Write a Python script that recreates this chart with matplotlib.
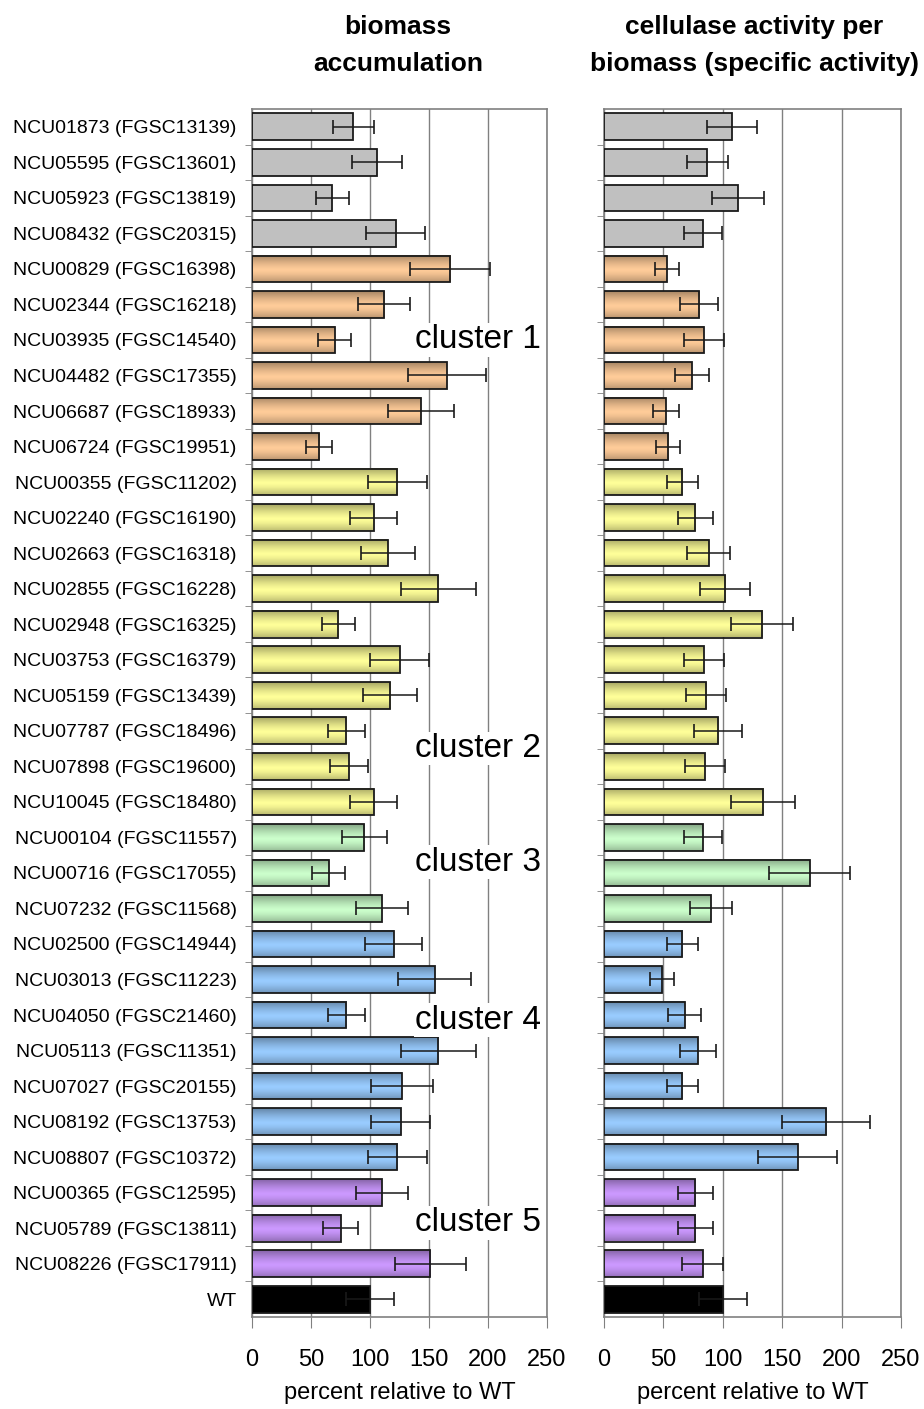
import numpy as np
import matplotlib
matplotlib.use('Agg')
import matplotlib.pyplot as plt
from matplotlib.colors import LinearSegmentedColormap, to_rgb

plt.rcParams['font.family'] = ['Liberation Sans', 'DejaVu Sans']

genes = ['NCU01873 (FGSC13139)', 'NCU05595 (FGSC13601)', 'NCU05923 (FGSC13819)',
         'NCU08432 (FGSC20315)', 'NCU00829 (FGSC16398)', 'NCU02344 (FGSC16218)',
         'NCU03935 (FGSC14540)', 'NCU04482 (FGSC17355)', 'NCU06687 (FGSC18933)',
         'NCU06724 (FGSC19951)', 'NCU00355 (FGSC11202)', 'NCU02240 (FGSC16190)',
         'NCU02663 (FGSC16318)', 'NCU02855 (FGSC16228)', 'NCU02948 (FGSC16325)',
         'NCU03753 (FGSC16379)', 'NCU05159 (FGSC13439)', 'NCU07787 (FGSC18496)',
         'NCU07898 (FGSC19600)', 'NCU10045 (FGSC18480)', 'NCU00104 (FGSC11557)',
         'NCU00716 (FGSC17055)', 'NCU07232 (FGSC11568)', 'NCU02500 (FGSC14944)',
         'NCU03013 (FGSC11223)', 'NCU04050 (FGSC21460)', 'NCU05113 (FGSC11351)',
         'NCU07027 (FGSC20155)', 'NCU08192 (FGSC13753)', 'NCU08807 (FGSC10372)',
         'NCU00365 (FGSC12595)', 'NCU05789 (FGSC13811)', 'NCU08226 (FGSC17911)',
         'WT']

# group of each row: 0 = none, 1..5 = clusters, 6 = WT
group = [0] * 4 + [1] * 6 + [2] * 10 + [3] * 3 + [4] * 7 + [5] * 3 + [6]

biomass = [86, 106, 68, 122, 168, 112, 70, 165, 143, 57,
           123, 103, 115, 158, 73, 125, 117, 80, 82, 103,
           95, 65, 110, 120, 155, 80, 158, 127, 126, 123,
           110, 75, 151, 100]
biomass_err = [17, 21, 14, 25, 34, 22, 14, 33, 28, 11,
               25, 20, 23, 32, 14, 25, 23, 16, 16, 20,
               19, 14, 22, 24, 31, 16, 32, 26, 25, 25,
               22, 15, 30, 20]

specific = [108, 87, 113, 83, 53, 80, 84, 74, 52, 54,
            66, 77, 88, 102, 133, 84, 86, 96, 85, 134,
            83, 173, 90, 66, 49, 68, 79, 66, 187, 163,
            77, 77, 83, 100]
specific_err = [21, 17, 22, 16, 10, 16, 17, 14, 11, 10,
                13, 15, 18, 21, 26, 17, 17, 20, 17, 27,
                16, 34, 18, 13, 10, 14, 15, 13, 37, 33,
                15, 15, 17, 20]

group_colors = ['#C0C0C0', '#FFCC99', '#FFFF99', '#CCFFCC', '#99CCFF', '#CC99FF', '#000000']

clusters = ['cluster 1', 'cluster 2', 'cluster 3', 'cluster 4', 'cluster 5']
cluster_rows = [6.0, 17.5, 20.7, 25.15, 30.85]

bar_h = 0.75
y = np.arange(len(genes))

# vertical shading profile for the 3-d look of the coloured bars
t = np.linspace(0, 1, 64)
shade = 0.7 * (np.abs(t - 0.55) / 0.55) ** 1.4


def grad_cmap(c):
    base = np.array(to_rgb(c))
    dark = base * 0.5
    cols = [tuple(base * (1 - s) + dark * s) for s in shade]
    return LinearSegmentedColormap.from_list('g', cols)


def draw_panel(ax, vals, errs):
    for i, (v, g) in enumerate(zip(vals, group)):
        c = group_colors[g]
        if g in (0, 6):
            ax.barh(i, v, height=bar_h, color=c, edgecolor='none', zorder=2)
        else:
            ax.imshow(np.linspace(0, 1, 64).reshape(-1, 1), cmap=grad_cmap(c),
                      extent=[0, v, i + bar_h / 2, i - bar_h / 2],
                      aspect='auto', interpolation='bilinear', zorder=2)
    ax.barh(y, vals, height=bar_h, fill=False, edgecolor='#1a1a1a', linewidth=1.3, zorder=3)
    ax.errorbar(vals, y, xerr=errs, fmt='none', ecolor='#1a1a1a', elinewidth=1.1,
                capsize=5, capthick=1.2, zorder=4)
    ax.set_xlim(0, 250)
    ax.set_ylim(len(genes) - 0.5, -0.5)
    ax.set_xticks([0, 50, 100, 150, 200, 250])
    ax.xaxis.grid(True, color='#808080', linewidth=1)
    ax.set_axisbelow(True)
    for s in ax.spines.values():
        s.set_color('#808080')
        s.set_linewidth(1.2)
    ax.tick_params(axis='x', colors='#808080', labelcolor='black', length=8,
                   pad=15, labelsize=17)
    ax.set_yticks(y)
    ax.set_yticks(y[:-1] + 0.5, minor=True)
    ax.tick_params(axis='y', which='major', length=0, pad=11, labelsize=14)
    ax.tick_params(axis='y', which='minor', length=5, colors='#808080')
    ax.set_xlabel('percent relative to WT', fontsize=17, labelpad=8)


fig = plt.figure(figsize=(9.24, 14.09), dpi=100)
ax1 = fig.add_axes([252 / 924, 1 - 1317 / 1409, 295 / 924, 1208 / 1409])
ax2 = fig.add_axes([604 / 924, 1 - 1317 / 1409, 297 / 924, 1208 / 1409])

draw_panel(ax1, biomass, biomass_err)
ax1.set_yticklabels(genes)
draw_panel(ax2, specific, specific_err)
ax2.set_yticklabels([])

for name, r in zip(clusters, cluster_rows):
    ax1.text(138, r, name, fontsize=24, ha='left', va='center', zorder=5,
             bbox=dict(facecolor='white', edgecolor='none', pad=1))

title_kw = dict(ha='center', va='center', fontsize=19, fontweight='bold',
                linespacing=1.65)
fig.text(398 / 924, 1 - 45.5 / 1409, 'biomass\naccumulation', **title_kw)
fig.text(754 / 924, 1 - 45.5 / 1409, 'cellulase activity per\nbiomass (specific activity)', **title_kw)

fig.savefig('out.png', dpi=100)
